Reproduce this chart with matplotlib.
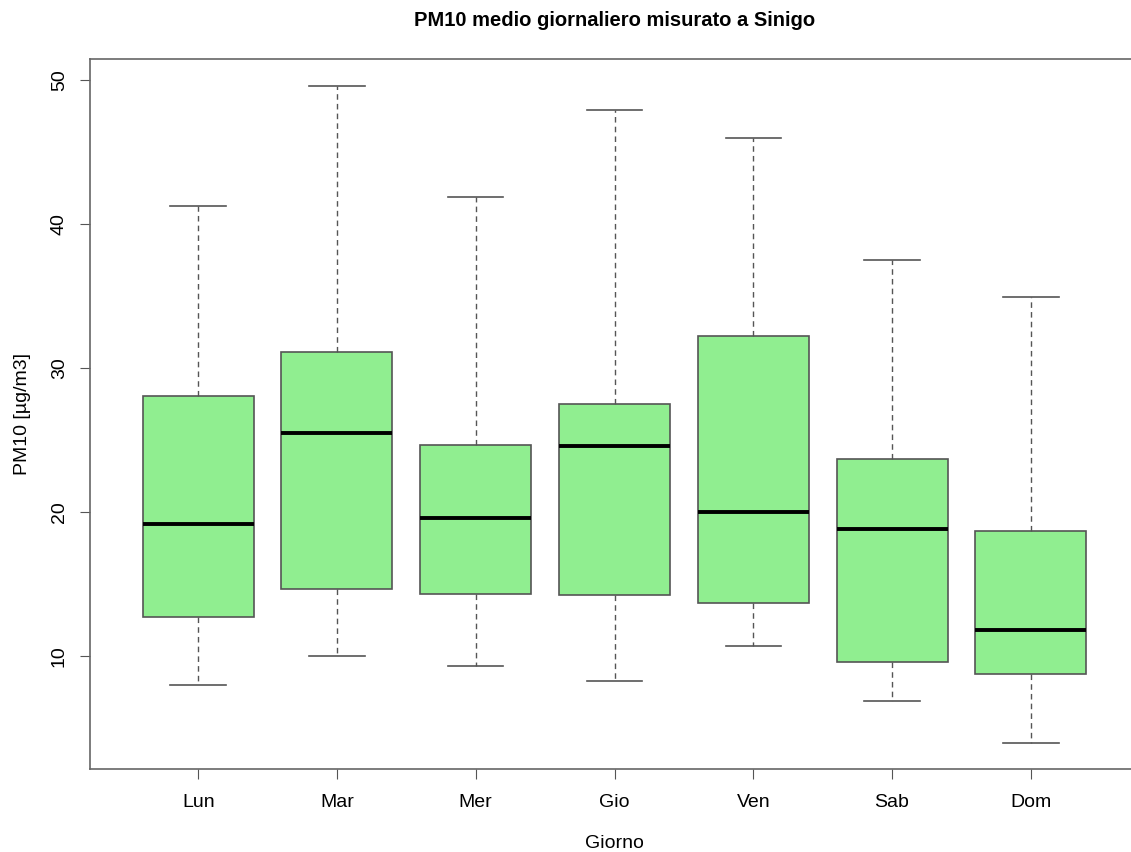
import matplotlib
matplotlib.use("Agg")
import matplotlib.pyplot as plt

# summary statistics (R-style boxplot)
giorni = ["Lun", "Mar", "Mer", "Gio", "Ven", "Sab", "Dom"]
whisker_low = [7.99, 10.0, 9.31, 8.26, 10.69, 6.87, 3.96]
q1 = [12.71, 14.65, 14.31, 14.24, 13.68, 9.58, 8.75]
mediana = [19.17, 25.49, 19.58, 24.58, 20.0, 18.82, 11.81]
q3 = [28.06, 31.11, 24.65, 27.5, 32.22, 23.68, 18.68]
whisker_high = [41.25, 49.58, 41.88, 47.92, 45.97, 37.5, 34.93]

stats = []
for i, g in enumerate(giorni):
    stats.append({
        "label": g,
        "whislo": whisker_low[i],
        "q1": q1[i],
        "med": mediana[i],
        "q3": q3[i],
        "whishi": whisker_high[i],
        "fliers": [],
    })

plt.rcParams["font.family"] = ["Liberation Sans", "DejaVu Sans"]

fig = plt.figure(figsize=(11.31, 8.52), dpi=100)
ax = fig.add_axes([90 / 1131, 1 - 769 / 852, (1139 - 90) / 1131, (769 - 59) / 852])

edge = "#555555"
ax.bxp(
    stats,
    positions=range(1, 8),
    widths=0.8,
    patch_artist=True,
    showfliers=False,
    boxprops=dict(facecolor="#90EE90", edgecolor=edge, linewidth=1.2),
    medianprops=dict(color="black", linewidth=2.8),
    whiskerprops=dict(color=edge, linewidth=1.0, linestyle=(0, (4, 3))),
    capprops=dict(color=edge, linewidth=1.2),
    capwidths=0.4,
)

ax.set_xlim(0.22, 7.78)
ax.set_ylim(2.14, 51.44)
ax.set_yticks([10, 20, 30, 40, 50])
ax.set_xticks(range(1, 8))
ax.set_xticklabels(giorni)
ax.tick_params(axis="both", labelsize=14, length=7, color=edge, pad=9)
ax.tick_params(axis="x", pad=11)
for lab in ax.get_yticklabels():
    lab.set_rotation(90)
    lab.set_va("center")
for s in ax.spines.values():
    s.set_color("#666666")
    s.set_linewidth(1.2)

ax.set_xlabel("Giorno", fontsize=14, labelpad=17)
ax.set_ylabel("PM10 [µg/m3]", fontsize=14, labelpad=14)
fig.text(615 / 1131, 1 - 20 / 852, "PM10 medio giornaliero misurato a Sinigo",
         ha="center", va="center", fontsize=14.5, fontweight="bold")

fig.savefig("out.png", dpi=100)
